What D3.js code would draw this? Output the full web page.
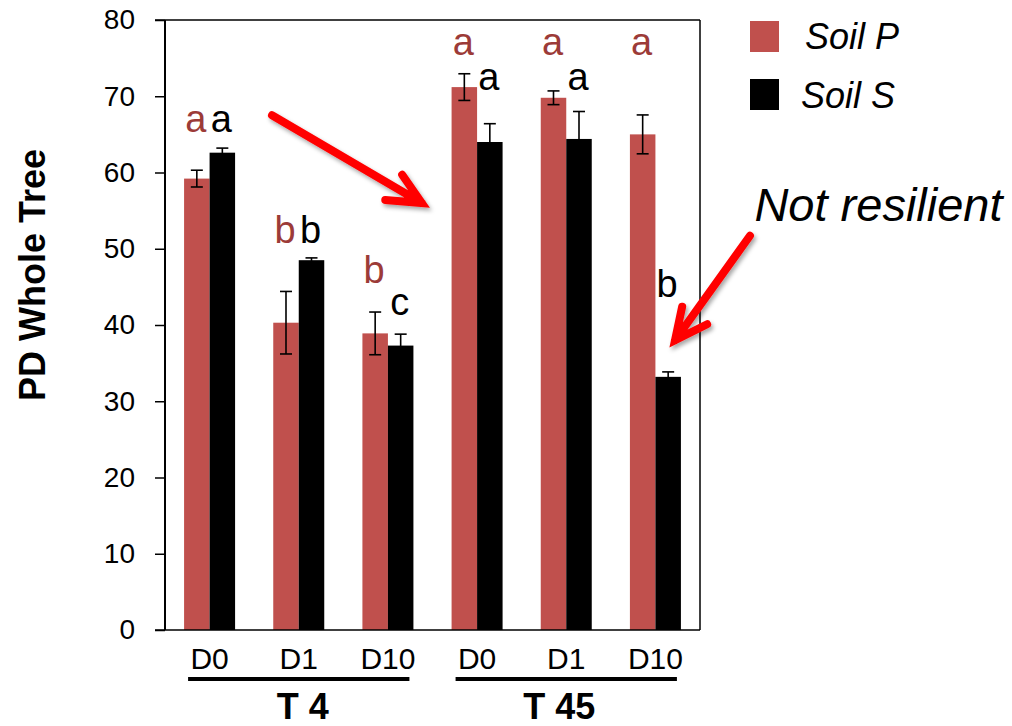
<!DOCTYPE html>
<html>
<head>
<meta charset="utf-8">
<script src="https://cdn.jsdelivr.net/npm/d3@7"></script>
<style>
  body { margin: 0; background: #fff; }
  svg text { font-family: "Liberation Sans", Arial, sans-serif; }
</style>
</head>
<body>
<div id="chart"></div>
<script>
// values
const groups = ["T 4", "T 45"]
const days = ["D0", "D1", "D10", "D0", "D1", "D10"]
const seriesNames = ["Soil P", "Soil S"]
const soilP = [59.2, 40.3, 38.9, 71.2, 69.8, 65.0]
const soilPErr = [1.1, 4.1, 2.8, 1.75, 0.9, 2.55]
const soilS = [62.6, 48.5, 37.3, 64.0, 64.4, 33.2]
const soilSErr = [0.6, 0.3, 1.5, 2.4, 3.6, 0.65]
const lettersP = ["a", "b", "b", "a", "a", "a"]
const lettersS = ["a", "b", "c", "a", "a", "b"]
const letterAtP = [65.3, 50.75, 45.5, 75.4, 75.4, 75.4]
const letterAtS = [65.3, 50.75, 41.3, 70.8, 70.8, 43.7]
const yTicks = [0, 10, 20, 30, 40, 50, 60, 70, 80]

const colors = { "Soil P": "#c0504d", "Soil S": "#000000" }
const letterColors = { "Soil P": "#9c3b38", "Soil S": "#000000" }

const W = 1012, H = 726
const margin = { top: 20, right: 312, bottom: 96, left: 165 }
const plotW = W - margin.left - margin.right
const plotH = H - margin.top - margin.bottom

const svg = d3.select("#chart").append("svg")
  .attr("width", W)
  .attr("height", H)

const defs = svg.append("defs")
const f = defs.append("filter").attr("id", "shadow")
  .attr("x", "-20%").attr("y", "-20%").attr("width", "150%").attr("height", "150%")
f.append("feDropShadow")
  .attr("dx", 2).attr("dy", 3).attr("stdDeviation", 2)
  .attr("flood-color", "#000").attr("flood-opacity", 0.35)

const g = svg.append("g")
  .attr("transform", "translate(" + margin.left + "," + margin.top + ")")

const keys = days.map((d, i) => i)

const x = d3.scaleBand().domain(keys).range([0, plotW])
  .paddingInner(0.428).paddingOuter(0.214)
const xs = d3.scaleBand().domain(seriesNames).range([0, x.bandwidth()])
const y = d3.scaleLinear().domain([0, 80]).range([plotH, 0])
// fractional category position, for the annotations
const xPos = d3.scaleLinear().domain([-0.5, keys.length - 0.5]).range([0, plotW])

// y axis
const yAxis = d3.axisLeft(y).tickValues(yTicks).tickSize(10).tickPadding(20).tickSizeOuter(0)
const ya = g.append("g").attr("class", "y axis").call(yAxis)
ya.select(".domain").remove()
ya.selectAll(".tick line").attr("stroke", "#000").attr("stroke-width", 1.5)
ya.selectAll(".tick text").attr("font-size", 28).attr("fill", "#000")

// x axis
const xAxis = d3.axisBottom(x).tickSize(0).tickPadding(18).tickFormat(i => days[i])
const xa = g.append("g").attr("transform", "translate(0," + plotH + ")").call(xAxis)
xa.select(".domain").remove()
xa.selectAll(".tick text").attr("font-size", 30).attr("fill", "#000")

// bars
const rows = keys.map(i => ({
  i: i,
  vals: [
    { s: "Soil P", v: soilP[i], e: soilPErr[i], l: lettersP[i], ly: letterAtP[i] },
    { s: "Soil S", v: soilS[i], e: soilSErr[i], l: lettersS[i], ly: letterAtS[i] }
  ]
}))

const grp = g.selectAll(".grp").data(rows).enter().append("g")
  .attr("class", "grp")
  .attr("transform", d => "translate(" + x(d.i) + ",0)")

grp.selectAll("rect").data(d => d.vals).enter().append("rect")
  .attr("x", d => xs(d.s))
  .attr("width", xs.bandwidth())
  .attr("y", d => y(d.v))
  .attr("height", d => plotH - y(d.v))
  .attr("fill", d => colors[d.s])

// error bars
const eb = grp.selectAll(".err").data(d => d.vals).enter().append("g").attr("class", "err")
  .attr("stroke", "#000").attr("stroke-width", 1.6)
eb.append("line")
  .attr("x1", d => xs(d.s) + xs.bandwidth() / 2)
  .attr("x2", d => xs(d.s) + xs.bandwidth() / 2)
  .attr("y1", d => y(d.v + d.e))
  .attr("y2", d => y(d.v - d.e))
eb.append("line")
  .attr("x1", d => xs(d.s) + xs.bandwidth() / 2 - 6)
  .attr("x2", d => xs(d.s) + xs.bandwidth() / 2 + 6)
  .attr("y1", d => y(d.v + d.e))
  .attr("y2", d => y(d.v + d.e))
eb.append("line")
  .attr("x1", d => xs(d.s) + xs.bandwidth() / 2 - 6)
  .attr("x2", d => xs(d.s) + xs.bandwidth() / 2 + 6)
  .attr("y1", d => y(d.v - d.e))
  .attr("y2", d => y(d.v - d.e))

// significance letters
grp.selectAll(".letter").data(d => d.vals).enter().append("text")
  .attr("class", "letter")
  .attr("x", d => xs(d.s) + xs.bandwidth() / 2 - 1)
  .attr("y", d => y(d.ly))
  .attr("text-anchor", "middle")
  .attr("font-size", 38)
  .attr("fill", d => letterColors[d.s])
  .text(d => d.l)

// frame: left axis, top, right, bottom
g.append("line").attr("x1", 0).attr("x2", 0).attr("y1", 0).attr("y2", plotH)
  .attr("stroke", "#000").attr("stroke-width", 2)
g.append("line").attr("x1", -10).attr("x2", plotW).attr("y1", 0).attr("y2", 0)
  .attr("stroke", "#000").attr("stroke-width", 1.5)
g.append("line").attr("x1", plotW).attr("x2", plotW).attr("y1", 0).attr("y2", plotH)
  .attr("stroke", "#000").attr("stroke-width", 1.5)
g.append("line").attr("x1", -10).attr("x2", plotW).attr("y1", plotH).attr("y2", plotH)
  .attr("stroke", "#000").attr("stroke-width", 1.5)

// group underlines and labels
groups.forEach((name, k) => {
  const first = x(k * 3), last = x(k * 3 + 2) + x.bandwidth()
  g.append("line")
    .attr("x1", first + 4).attr("x2", last - 4)
    .attr("y1", plotH + 49).attr("y2", plotH + 49)
    .attr("stroke", "#000").attr("stroke-width", 4)
  g.append("text")
    .attr("x", x(k * 3 + 1) + x.bandwidth() / 2 + (k === 0 ? 4 : -7))
    .attr("y", plotH + 89)
    .attr("text-anchor", "middle")
    .attr("font-size", 36)
    .attr("font-weight", "bold")
    .text(name)
})

// y title
svg.append("text")
  .attr("transform", "translate(45,275) rotate(-90)")
  .attr("text-anchor", "middle")
  .attr("font-size", 36)
  .attr("font-weight", "bold")
  .text("PD Whole Tree")

// legend
const legend = svg.append("g").attr("transform", "translate(750,21)")
seriesNames.forEach((s, k) => {
  legend.append("rect")
    .attr("x", 0).attr("y", k * 58)
    .attr("width", 29).attr("height", 31)
    .attr("fill", colors[s])
  legend.append("text")
    .attr("x", k === 0 ? 55 : 51).attr("y", k * 59 + 28)
    .attr("font-size", 36)
    .attr("font-style", "italic")
    .text(s)
})

// annotation arrows, in category / value units
const arrows = [
  { from: [0.70, 67.5], to: [2.38, 56.0], arms: [[2.16, 59.7], [1.97, 56.4]] },
  { from: [6.06, 51.7], to: [5.22, 38.0], arms: [[5.30, 42.4], [5.58, 40.1]] }
]
const pt = p => [xPos(p[0]), y(p[1])]
const ann = g.append("g").attr("filter", "url(#shadow)")
arrows.forEach(a => {
  const s = pt(a.from), t = pt(a.to), a1 = pt(a.arms[0]), a2 = pt(a.arms[1])
  ann.append("path")
    .attr("d", "M" + s + "L" + t + "M" + a1 + "L" + t + "L" + a2)
    .attr("fill", "none")
    .attr("stroke", "#ff0000")
    .attr("stroke-width", 8)
    .attr("stroke-linecap", "round")
    .attr("stroke-linejoin", "miter")
})

g.append("text")
  .attr("x", xPos(6.11))
  .attr("y", y(53.6))
  .attr("font-size", 47)
  .attr("font-style", "italic")
  .text("Not resilient")
</script>
</body>
</html>
